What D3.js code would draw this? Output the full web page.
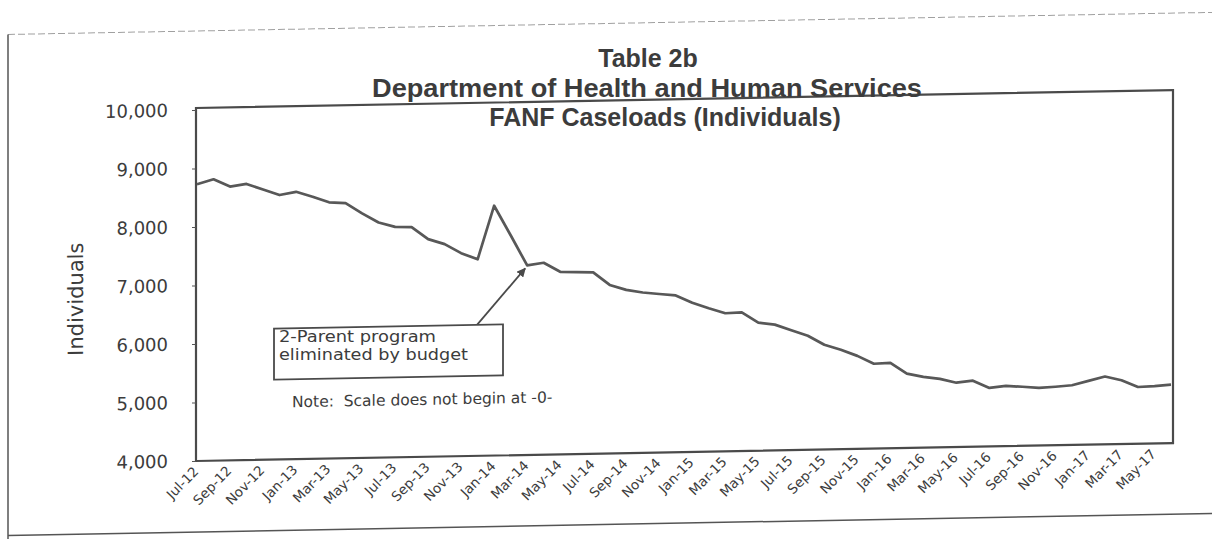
<!DOCTYPE html>
<html>
<head>
<meta charset="utf-8">
<script src="https://cdn.jsdelivr.net/npm/d3@7"></script>
<style>
  html, body { margin: 0; padding: 0; background: #fff; }
  svg { display: block; }
  text { font-family: "DejaVu Sans", "Liberation Sans", Arial, sans-serif; fill: #3c3c3c; }
</style>
</head>
<body>
<svg id="chart" width="1212" height="539"></svg>
<script>
// ---- data ----
const months = [
  "Jul-12","Aug-12","Sep-12","Oct-12","Nov-12","Dec-12",
  "Jan-13","Feb-13","Mar-13","Apr-13","May-13","Jun-13","Jul-13","Aug-13","Sep-13","Oct-13","Nov-13","Dec-13",
  "Jan-14","Feb-14","Mar-14","Apr-14","May-14","Jun-14","Jul-14","Aug-14","Sep-14","Oct-14","Nov-14","Dec-14",
  "Jan-15","Feb-15","Mar-15","Apr-15","May-15","Jun-15","Jul-15","Aug-15","Sep-15","Oct-15","Nov-15","Dec-15",
  "Jan-16","Feb-16","Mar-16","Apr-16","May-16","Jun-16","Jul-16","Aug-16","Sep-16","Oct-16","Nov-16","Dec-16",
  "Jan-17","Feb-17","Mar-17","Apr-17","May-17","Jun-17"
];
const caseloads = [
  8730, 8810, 8680, 8720, 8620, 8520,
  8570, 8480, 8380, 8360, 8180, 8020, 7940, 7930, 7720, 7630, 7470, 7360,
  8270, 7760, 7240, 7280, 7120, 7110, 7100, 6880, 6790, 6740, 6710, 6680,
  6550, 6450, 6360, 6370, 6190, 6150, 6050, 5950, 5790, 5700, 5590, 5450,
  5460, 5270, 5210, 5170, 5100, 5130, 5000, 5030, 5010, 4985, 5000, 5020,
  5090, 5160, 5090, 4970, 4980, 5000
];
const yTicks = [4000, 5000, 6000, 7000, 8000, 9000, 10000];
const xTickLabels = [
  "Jul-12","Sep-12","Nov-12","Jan-13","Mar-13","May-13","Jul-13","Sep-13","Nov-13",
  "Jan-14","Mar-14","May-14","Jul-14","Sep-14","Nov-14","Jan-15","Mar-15","May-15",
  "Jul-15","Sep-15","Nov-15","Jan-16","Mar-16","May-16","Jul-16","Sep-16","Nov-16",
  "Jan-17","Mar-17","May-17"
];
const titleLines = ["Table 2b", "Department of Health and Human Services", "FANF Caseloads (Individuals)"];
const yTitle = "Individuals";
const noteText = "Note:  Scale does not begin at -0-";
const annotationLines = ["2-Parent program", "eliminated by budget"];
const annotatedMonth = "Mar-14";

// ---- layout ----
const svg = d3.select("#chart");
svg.append("rect").attr("width", 1212).attr("height", 539).attr("fill", "#fff");

const plotLeft = 196, plotRight = 1173, plotTop = 108, plotBottom = 461;
const tilt = 1.05; // degrees: the scanned page is slightly tilted
const tiltShift = px => (px - plotLeft) * Math.tan(tilt * Math.PI / 180);

const g = svg.append("g")
  .attr("transform", `translate(${plotLeft},0) skewY(${-tilt}) translate(${-plotLeft},0)`);

// outer chart frame
g.append("line").attr("x1", 8).attr("x2", 1230).attr("y1", 31).attr("y2", 31)
  .attr("stroke", "#a0a0a0").attr("stroke-width", 1).attr("stroke-dasharray", "7 3");
g.append("line").attr("x1", 8).attr("x2", 8).attr("y1", 31).attr("y2", 560)
  .attr("stroke", "#555").attr("stroke-width", 1.5);
g.append("line").attr("x1", 8).attr("x2", 1230).attr("y1", 532).attr("y2", 532)
  .attr("stroke", "#555").attr("stroke-width", 1.5);

const x = d3.scalePoint().domain(months).range([plotLeft + 1, plotRight - 2]);
const y = d3.scaleLinear().domain([4000, 10000]).range([plotBottom, 110]);

// plot frame
g.append("rect")
  .attr("x", plotLeft).attr("y", plotTop)
  .attr("width", plotRight - plotLeft).attr("height", plotBottom - plotTop)
  .attr("fill", "none").attr("stroke", "#4a4a4a").attr("stroke-width", 2.2);

// y axis
const yAxis = g.append("g")
  .attr("transform", `translate(${plotLeft},0)`)
  .call(d3.axisLeft(y).tickValues(yTicks).tickSize(4).tickPadding(24).tickFormat(d3.format(",")));
yAxis.select(".domain").remove();
yAxis.selectAll("line").attr("stroke", "#555");
yAxis.selectAll("text")
  .style("font-family", '"DejaVu Sans", sans-serif')
  .style("font-size", "18px").attr("fill", "#3c3c3c");

// x tick labels
g.append("g").selectAll("text")
  .data(xTickLabels)
  .join("text")
  .attr("transform", d => `translate(${x(d) - 1},${plotBottom + 8}) rotate(-45)`)
  .attr("text-anchor", "end")
  .attr("dy", "0.35em")
  .style("font-size", "13.5px")
  .text(d => d);

// y title
g.append("text")
  .attr("transform", `translate(76,297) rotate(-90)`)
  .attr("text-anchor", "middle")
  .attr("dy", "0.35em")
  .style("font-size", "21px")
  .text(yTitle);

// the series line
const line = d3.line()
  .x((d, i) => x(months[i]))
  .y(d => y(d));
g.append("path")
  .datum(caseloads)
  .attr("d", line)
  .attr("fill", "none")
  .attr("stroke", "#585858")
  .attr("stroke-width", 2.7)
  .attr("stroke-linejoin", "round");

// annotation arrow
svg.append("defs").append("marker")
  .attr("id", "arrowhead")
  .attr("viewBox", "0 0 10 10")
  .attr("refX", 9).attr("refY", 5)
  .attr("markerWidth", 9).attr("markerHeight", 9)
  .attr("markerUnits", "userSpaceOnUse")
  .attr("orient", "auto")
  .append("path").attr("d", "M0,0 L10,5 L0,10 Z").attr("fill", "#4a4a4a");

const ai = months.indexOf(annotatedMonth);
const tipX = x(annotatedMonth) - 2, tipY = y(caseloads[ai]) + 3;
g.append("line")
  .attr("x1", 477).attr("y1", 330)
  .attr("x2", tipX).attr("y2", tipY)
  .attr("stroke", "#4a4a4a").attr("stroke-width", 1.8)
  .attr("marker-end", "url(#arrowhead)");

// annotation box
g.append("rect")
  .attr("x", 274).attr("y", 330).attr("width", 229).attr("height", 51)
  .attr("fill", "#fff").attr("stroke", "#4a4a4a").attr("stroke-width", 1.8);
// box text kept level (not skewed) so the two lines stay cleanly apart
const annoX = 279, annoWidths = [157, 189];
svg.append("text")
  .style("font-size", "15px")
  .selectAll("tspan")
  .data(annotationLines)
  .join("tspan")
  .attr("x", annoX)
  .attr("y", (d, i) => 344 + i * 18 - tiltShift(annoX))
  .attr("textLength", (d, i) => annoWidths[i])
  .attr("lengthAdjust", "spacingAndGlyphs")
  .text(d => d);

// note
g.append("text")
  .attr("x", 292).attr("y", 409)
  .style("font-size", "15.5px")
  .style("white-space", "pre")
  .text(noteText);

// page titles (not tilted)
const titleX = [648, 647, 665];
const titleY = [67, 97, 126];
const titleSize = [25, 26, 25];
const titleWidths = [null, 550, null];
svg.append("text")
  .attr("text-anchor", "middle")
  .style("font-family", '"Liberation Sans", Arial, sans-serif')
  .style("font-weight", "bold")
  .attr("fill", "#3a3a3a")
  .selectAll("tspan")
  .data(titleLines)
  .join("tspan")
  .attr("x", (d, i) => titleX[i])
  .attr("y", (d, i) => titleY[i])
  .attr("textLength", (d, i) => titleWidths[i])
  .attr("lengthAdjust", (d, i) => titleWidths[i] ? "spacingAndGlyphs" : null)
  .style("font-size", (d, i) => titleSize[i] + "px")
  .text(d => d);
</script>
</body>
</html>
